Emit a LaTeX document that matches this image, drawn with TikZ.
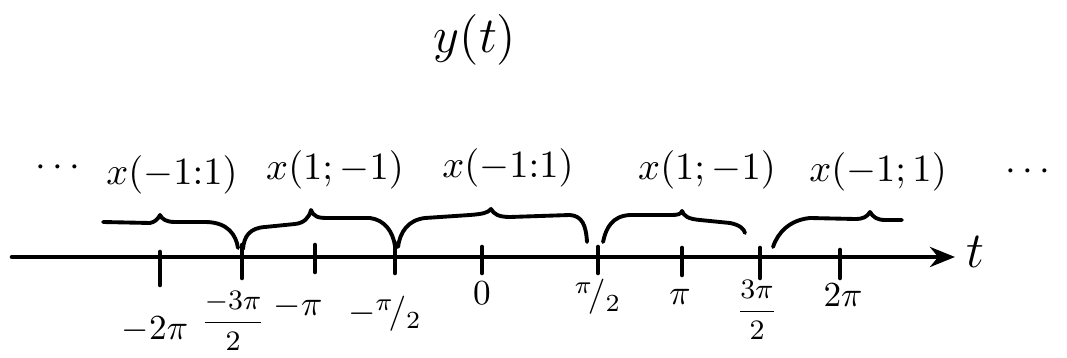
\documentclass[tikz,border=0pt]{standalone}
\usetikzlibrary{arrows.meta}
\begin{document}
\begin{tikzpicture}[x=0.01cm,y=-0.01cm,
  ink/.style={line width=1.3pt, line cap=round, line join=round},
  bracepath/.style={line width=1.1pt, line cap=round, line join=round},
  lbl/.style={inner sep=0pt, font=\fontsize{10.5}{12}\selectfont},
  tlbl/.style={inner sep=0pt, font=\fontsize{10}{12}\selectfont},
  flbl/.style={inner sep=0pt, font=\fontsize{8}{10}\selectfont}]
\useasboundingbox (0,0) rectangle (1067,358);
% title
\node[inner sep=0pt,font=\fontsize{14.5}{16}\selectfont] (title) at (475,40) {$y(t)$};
% axis
\coordinate (axL) at (12,257);
\coordinate (axR) at (955,257);
\node[inner sep=0pt,font=\fontsize{14}{16}\selectfont] (tvar) at (975,252) {$t$};
\draw[ink,-{Stealth[length=0.25cm,width=0.2cm]}] (axL) -- (axR);
% ticks
\foreach \x/\a/\b in {160/252/285, 242/245/278, 315/245/272, 395/243/273, 482/247/273,
                      598/247/273, 682/248/275, 760/248/278, 840/250/278}
  \draw[ink] (\x,\a) -- (\x,\b);
% tick labels
\node[tlbl] (m2pi) at (155,330) {$-2\pi$};
\node[flbl] (m3pi2) at (233,321) {$\displaystyle\frac{-3\pi}{2}$};
\node[tlbl] (mpi) at (298,307) {$-\pi$};
\node[tlbl] (mpi2) at (385,314) {$-{}^{\pi}\!/_{2}$};
\node[tlbl] (zero) at (482,293) {$0$};
\node[tlbl] (pi2) at (598,297) {${}^{\pi}\!/_{2}$};
\node[tlbl] (pi) at (680,297) {$\pi$};
\node[flbl] (p3pi2) at (757,310) {$\displaystyle\frac{3\pi}{2}$};
\node[tlbl] (p2pi) at (843,295) {$2\pi$};
% top labels
\node[lbl] (dotsL) at (58,168) {$\cdots$};
\node[lbl] (s1) at (172,175) {$x(-1{:}1)$};
\node[lbl] (s2) at (335,170) {$x(1;-1)$};
\node[lbl] (s3) at (508,168) {$x(-1{:}1)$};
\node[lbl] (s4) at (707,170) {$x(1;-1)$};
\node[lbl] (s5) at (878,172) {$x(-1;1)$};
\node[lbl] (dotsR) at (1028,172) {$\cdots$};
% braces
\draw[bracepath] (103,222) -- (150,223) .. controls (155,222) and (158,219) .. (160,215)
  .. controls (162,219) and (166,222) .. (175,222) -- (205,222)
  .. controls (228,222) and (236,235) .. (238,248);
\draw[bracepath] (243,249) .. controls (244,236) and (250,228) .. (265,227) -- (295,224)
  .. controls (304,223) and (309,218) .. (311,210)
  .. controls (314,217) and (318,218) .. (328,218) -- (370,218)
  .. controls (385,220) and (393,232) .. (395,246);
\draw[bracepath] (398,247) .. controls (400,232) and (408,220) .. (425,218) -- (470,215)
  .. controls (482,214) and (488,213) .. (491,209)
  .. controls (494,214) and (498,217) .. (510,217) -- (570,215)
  .. controls (582,216) and (586,225) .. (587,242);
\draw[bracepath] (603,242) .. controls (606,228) and (612,216) .. (630,215) -- (672,215)
  .. controls (678,215) and (681,214) .. (682,211)
  .. controls (684,216) and (688,219) .. (700,220) -- (730,223)
  .. controls (740,225) and (744,229) .. (745,233);
\draw[bracepath] (773,247) .. controls (778,232) and (790,220) .. (810,218) -- (855,219)
  .. controls (863,219) and (867,217) .. (870,212)
  .. controls (873,217) and (877,220) .. (885,220) -- (902,220);
\end{tikzpicture}
\end{document}
